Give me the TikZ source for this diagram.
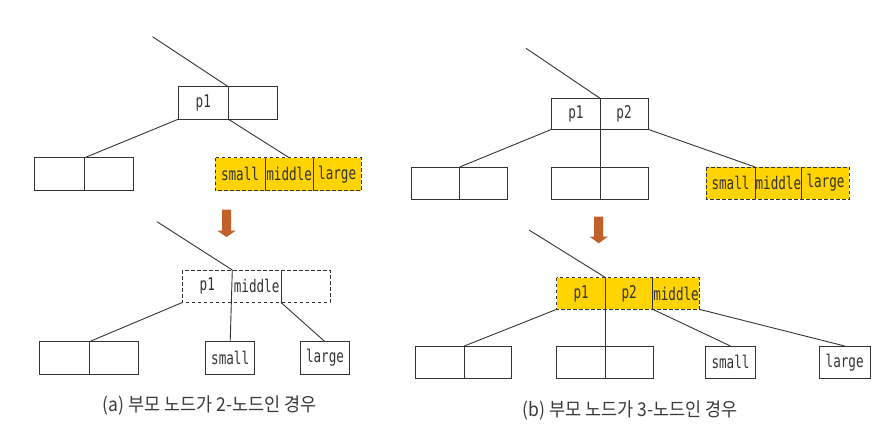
\documentclass[tikz,border=0pt]{standalone}
\usepackage{fontspec}
\newfontfamily\monof[FakeStretch=0.72]{DejaVu Sans Mono}
\newfontfamily\krf[FakeStretch=0.92]{Noto Sans CJK KR}
\definecolor{ylw}{HTML}{FFD400}
\definecolor{arrc}{HTML}{C2602C}
\definecolor{ln}{HTML}{333333}
\definecolor{capc}{HTML}{3A3A3A}
\begin{document}
\begin{tikzpicture}[x=1pt,y=-1pt,
  cellbase/.style={minimum height=32.5pt, inner sep=0pt, outer sep=0pt, anchor=north west,
    font=\monof\fontsize{17.5}{19}\selectfont, text=ln},
  cell/.style={cellbase, draw=ln, line width=0.9pt},
  ycell/.style={cellbase, fill=ylw},
  ecell/.style={cellbase},
  conn/.style={draw=ln, line width=0.9pt},
  dashbox/.style={draw=ln, line width=0.9pt, dash pattern=on 3.5pt off 2.5pt},
  caption/.style={font=\krf\fontsize{19}{22}\selectfont, text=capc},
  downarrow/.style={fill=arrc}
]
\useasboundingbox (0,0) rectangle (894,445);

% ---------- (a) top ----------
\coordinate (at0) at (152.5,36.7);
\node[cell, minimum width=50pt] (ap1) at (178.3,86.7) {p1};
\node[cell, minimum width=48.7pt] (ap2) at (228.3,86.7) {};
\node[cell, minimum width=50.4pt, minimum height=33pt] (al1) at (34.3,157.7) {};
\node[cell, minimum width=49pt, minimum height=33pt] (al2) at (84.7,157.7) {};
\node[ycell, minimum width=50pt, minimum height=33pt] (ys1) at (215,157.7) {small};
\node[ycell, minimum width=48.3pt, minimum height=33pt] (ym1) at (265,157.7) {middle};
\node[ycell, minimum width=47.7pt, minimum height=33pt] (yl1) at (313.3,157.7) {large};
\draw[dashbox] (ys1.north west) rectangle (yl1.south east);
\draw[conn] (ym1.north west) -- (ym1.south west) (ym1.north east) -- (ym1.south east);
\draw[conn] (at0) -- (ap1.north east);
\draw[conn] (ap1.south west) -- (al1.north east);
\draw[conn] (ap1.south east) -- (ym1.north);

% arrow (a)
\fill[downarrow] (222,209.5) -- (231,209.5) -- (231,230.5) -- (236,230.5) -- (226.5,237)
  -- (217,230.5) -- (222,230.5) -- cycle;

% ---------- (a) bottom ----------
\coordinate (at1) at (157,221.7);
\node[ecell, minimum width=50pt] (bp1) at (182.3,270) {p1};
\node[ecell, minimum width=48.7pt] (bm) at (232.3,270) {middle};
\node[ecell, minimum width=49pt] (be) at (281,270) {};
\draw[dashbox] (bp1.north west) rectangle (be.south east);
\draw[conn] (bm.north east) -- (bm.south east);
\node[cell, minimum width=50.3pt] (bl1) at (39,341.7) {};
\node[cell, minimum width=49pt] (bl2) at (89.3,341.7) {};
\node[cell, minimum width=49pt] (bs) at (205.7,341.7) {small};
\node[cell, minimum width=49.4pt] (blg) at (300.3,341.7) {large};
\draw[conn] (at1) -- (bm.north west);
\draw[conn] (bm.north west) -- (bs.north);
\draw[conn] (bp1.south west) -- (bl1.north east);
\draw[conn] (bm.south east) -- (blg.north);
\node[caption] (capa) at (209.7,405.7) {(a) 부모 노드가 2-노드인 경우};

% ---------- (b) top ----------
\coordinate (bt0) at (526,48.3);
\node[cell, minimum width=48.3pt, minimum height=31pt] (cp1) at (551.7,98.3) {p1};
\node[cell, minimum width=48pt, minimum height=31pt] (cp2) at (600,98.3) {p2};
\node[cell, minimum width=48.7pt, minimum height=32pt] (cl1) at (411,167) {};
\node[cell, minimum width=47.6pt, minimum height=32pt] (cl2) at (459.7,167) {};
\node[cell, minimum width=48.3pt, minimum height=32pt] (cm1) at (551.7,167) {};
\node[cell, minimum width=48pt, minimum height=32pt] (cm2) at (600,167) {};
\node[ycell, minimum width=49pt, minimum height=32pt] (ys2) at (706,167) {small};
\node[ycell, minimum width=46.7pt, minimum height=32pt] (ym2) at (755,167) {middle};
\node[ycell, minimum width=47.6pt, minimum height=32pt] (yl2) at (801.7,167) {large};
\draw[dashbox] (ys2.north west) rectangle (yl2.south east);
\draw[conn] (ym2.north west) -- (ym2.south west) (ym2.north east) -- (ym2.south east);
\draw[conn] (bt0) -- (cp1.north east);
\draw[conn] (cp1.south west) -- (cl1.north east);
\draw[conn] (cp1.south east) -- (cm1.north east);
\draw[conn] (cp2.south east) -- (ym2.north west);

% arrow (b)
\fill[downarrow] (594.2,216.5) -- (603.2,216.5) -- (603.2,236.5) -- (608,236.5) -- (598.7,243.3)
  -- (589.4,236.5) -- (594.2,236.5) -- cycle;

% ---------- (b) bottom ----------
\coordinate (bt1) at (529,230);
\node[ycell, minimum width=49pt, minimum height=31.6pt] (dp1) at (556.7,277.7) {p1};
\node[ycell, minimum width=47pt, minimum height=31.6pt] (dp2) at (605.7,277.7) {p2};
\node[ycell, minimum width=46.6pt, minimum height=31.6pt] (dm) at (652.7,277.7) {middle};
\draw[dashbox] (dp1.north west) rectangle (dm.south east);
\draw[conn] (dp1.north east) -- (dp1.south east) (dp2.north east) -- (dp2.south east);
\node[cell, minimum width=49.3pt] (dl1) at (415,346) {};
\node[cell, minimum width=47.4pt] (dl2) at (464.3,346) {};
\node[cell, minimum width=49pt] (dc1) at (556.7,346) {};
\node[cell, minimum width=47.6pt] (dc2) at (605.7,346) {};
\node[cell, minimum width=49.6pt] (dsm) at (705.7,346) {small};
\node[cell, minimum width=50.7pt] (dlg) at (819.3,346) {large};
\draw[conn] (bt1) -- (dp1.north east);
\draw[conn] (dp1.south west) -- (dl1.north east);
\draw[conn] (dp1.south east) -- (dc1.north east);
\draw[conn] (dp2.south east) -- (dsm.north);
\draw[conn] (dm.south east) -- (dlg.north);
\node[caption] (capb) at (630,410.7) {(b) 부모 노드가 3-노드인 경우};
\end{tikzpicture}
\end{document}
